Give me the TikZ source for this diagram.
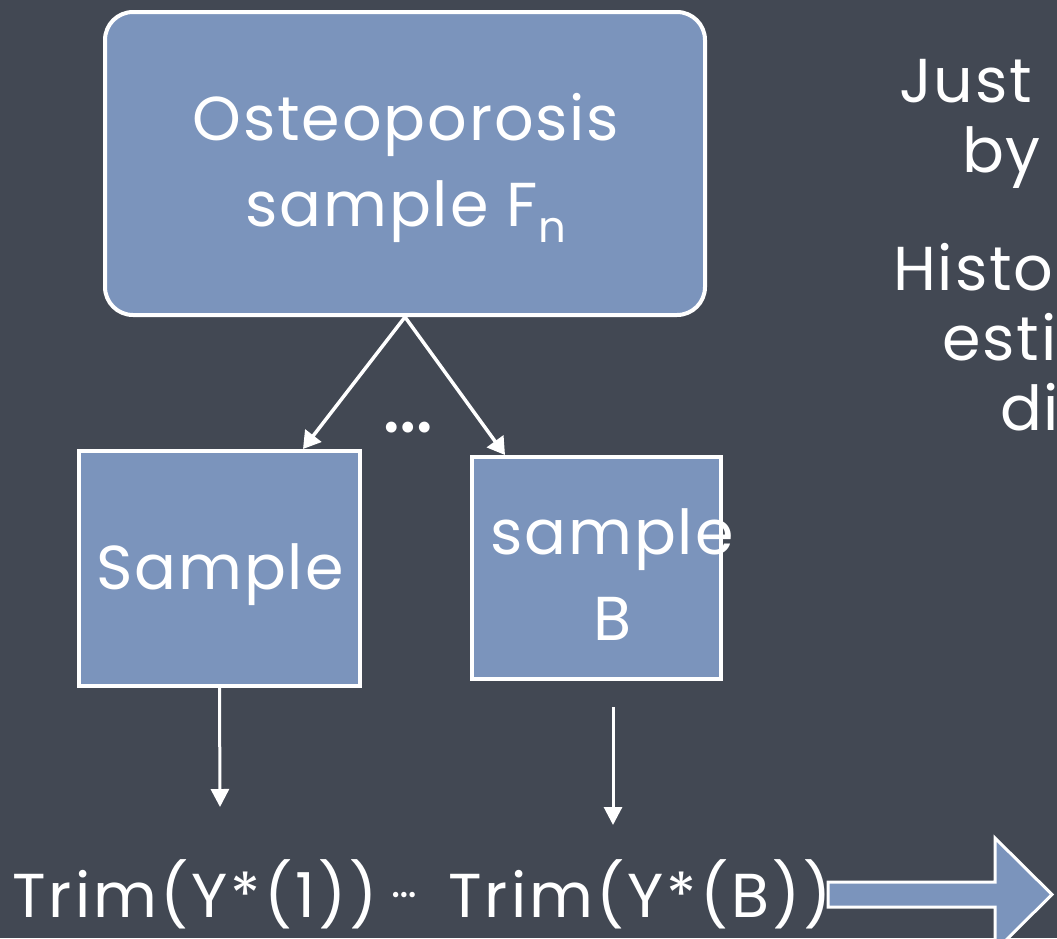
\documentclass[tikz,border=0pt]{standalone}
\usepackage{fontspec}
\setmainfont{Poppins}[LetterSpace=3]
\usetikzlibrary{arrows.meta}
\definecolor{bg}{RGB}{66,72,83}
\definecolor{boxfill}{RGB}{123,148,188}
\begin{document}
\begin{tikzpicture}[x=1pt,y=-1pt,
  big/.style={font=\fontsize{62}{86}\selectfont, text=white, inner sep=0pt},
  bottomtext/.style={font=\fontsize{62}{70}\selectfont\addfontfeature{LetterSpace=5}, text=white, inner sep=0pt},
  panel/.style={draw=white, line width=4pt, fill=boxfill, inner sep=0pt},
  conn/.style={draw=white, line width=3.5pt, -{Triangle[width=20pt,length=17pt]}},
  thinconn/.style={draw=white, line width=3pt, -{Triangle[width=18pt,length=18pt]}},
  blockarrow/.style={draw=white, line width=3pt, fill=boxfill, line join=miter}
]
\fill[bg] (0,0) rectangle (1057,938);
\useasboundingbox (0,0) rectangle (1057,938);
\clip (0,0) rectangle (1057,938);

% boxes
\node[panel, rounded corners=28pt, minimum width=600pt, minimum height=303pt] (top) at (405,163.5) {};
\node[big, align=center] (toptext) at (406,168) {Osteoporosis\\sample F\textsubscript{n}};

\node[panel, minimum width=281pt, minimum height=235pt] (lb) at (219.5,568.5) {};
\node[big] (lbtext) at (220,575) {Sample};

\node[panel, minimum width=249pt, minimum height=222pt] (rb) at (596.5,568) {};
\node[big, align=center] (rbtext) at (612,575) {sample\\B};

% connectors
\draw[conn] (top.south) -- ([xshift=83.5pt]lb.north);
\draw[conn] (top.south) -- ([xshift=-91.5pt]rb.north);
\node[font=\fontsize{88}{90}\selectfont, text=white, inner sep=0pt] (dots) at (408,428) {…};

\coordinate (lend) at (220,807);
\coordinate (rstart) at (613,707);
\coordinate (rend) at (613,825);
\draw[thinconn] (lb.south) -- (lend);
\draw[thinconn] (rstart) -- (rend);

% bottom texts
\node[bottomtext, anchor=base west] (trim1) at (12,917) {Trim(Y*(1))};
\node[font=\fontsize{44}{44}\selectfont, text=white, inner sep=0pt] (tdots) at (404,895) {…};
\node[bottomtext, anchor=base west] (trimB) at (448,917) {Trim(Y*(B))};

% block arrow
\coordinate (a1) at (828,882);
\coordinate (a2) at (995,882);
\coordinate (a3) at (995,838);
\coordinate (a4) at (1052,894.5);
\coordinate (a5) at (995,951);
\coordinate (a6) at (995,907);
\coordinate (a7) at (828,907);
\draw[blockarrow] (a1) -- (a2) -- (a3) -- (a4) -- (a5) -- (a6) -- (a7) -- cycle;

% right-hand text (cut off by the slide edge)
\node[big, anchor=base west] (t1) at (899,102) {Just};
\node[big, anchor=base west] (t2) at (962,172) {by};
\node[big, anchor=base west] (t3) at (893,290) {Histo};
\node[big, anchor=base west] (t4) at (942,360) {esti};
\node[big, anchor=base west] (t5) at (1000,430) {di};
\end{tikzpicture}
\end{document}
